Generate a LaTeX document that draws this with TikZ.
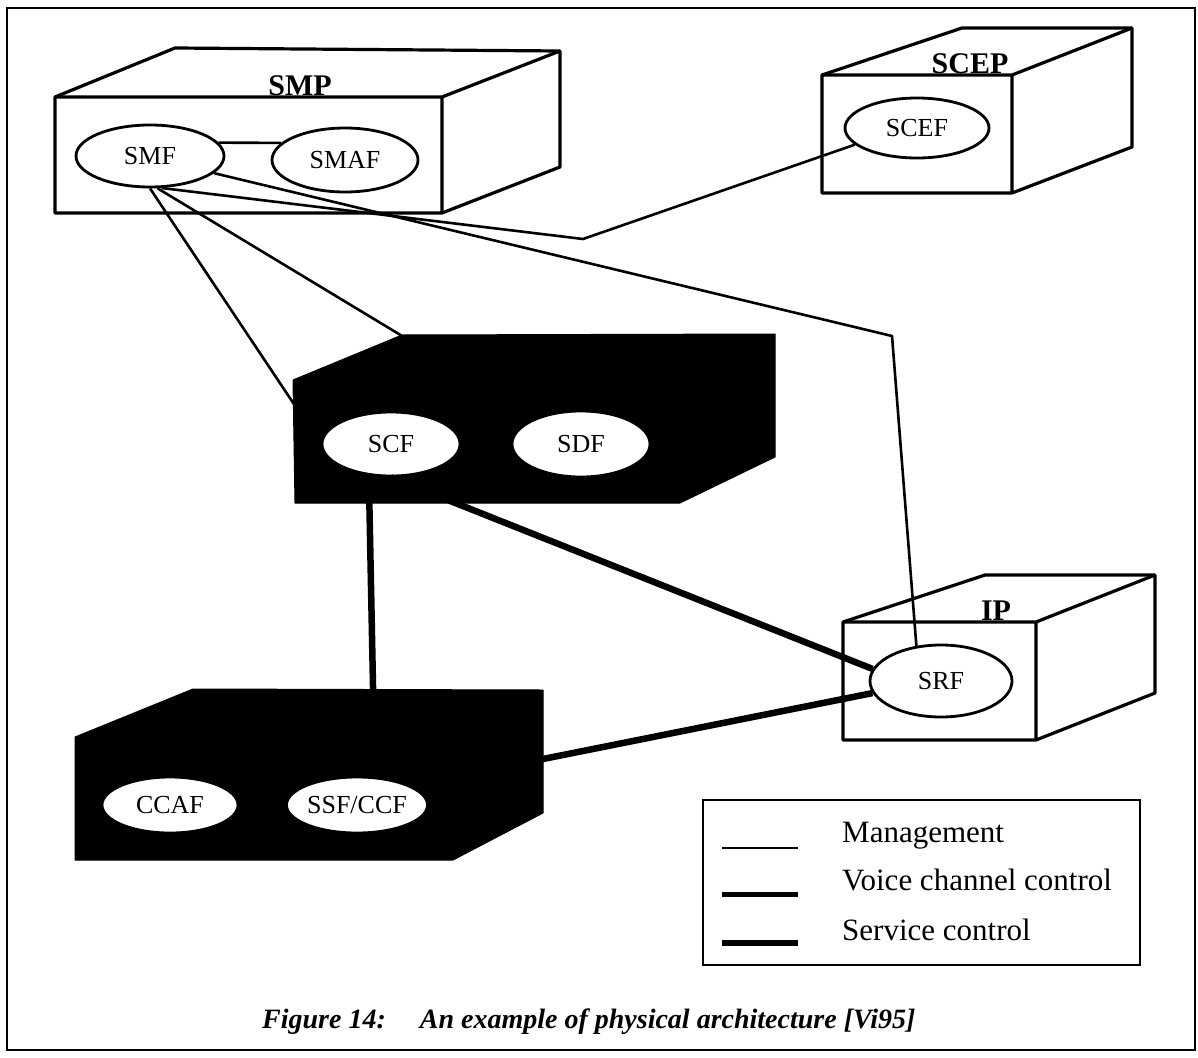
\documentclass[tikz,border=0pt]{standalone}
\usepackage{fontspec}
\setmainfont{Liberation Serif}
\usetikzlibrary{shapes.geometric}
\begin{document}
\begin{tikzpicture}[x=1pt,y=-1pt,
  func/.style={ellipse, draw, line width=2.8pt, fill=white, inner sep=0pt,
    font=\fontsize{26}{30}\selectfont},
  boxlabel/.style={anchor=base, inner sep=0pt,
    font=\fontsize{30}{34}\selectfont\bfseries},
  boxedge/.style={draw, line width=3.2pt, line join=round, fill=white},
  boxline/.style={line width=3.2pt, line join=round},
  darkbox/.style={fill=black, draw=black, line width=1pt, line join=round},
  mgmt/.style={line width=2.6pt, line join=round},
  ctrl/.style={line width=6.5pt},
  legtext/.style={anchor=base west, inner sep=0pt,
    font=\fontsize{31}{35}\selectfont}
]
\useasboundingbox (0,0) rectangle (1198,1057);
\draw[line width=2pt] (7,8) rectangle (1195,1050);

% SMP box
\draw[boxedge] (55,97) -- (175,48) -- (560,51) -- (560,167) -- (442,213) -- (55,213) -- cycle;
\draw[boxline] (55,97) -- (442,97) -- (560,51) (442,97) -- (442,213);
\node[boxlabel] (smp) at (300,95) {SMP};

% SCEP box
\draw[boxedge] (822,75) -- (962,28) -- (1132,28) -- (1132,147) -- (1012,193) -- (822,193) -- cycle;
\draw[boxline] (822,75) -- (1012,75) -- (1132,28) (1012,75) -- (1012,193);
\node[boxlabel] (scep) at (970,74) {SCEP};

% IP box
\draw[boxedge] (843,622) -- (985,575) -- (1155,575) -- (1155,693) -- (1036,740) -- (843,740) -- cycle;
\draw[boxline] (843,622) -- (1036,622) -- (1155,575) (1036,622) -- (1036,740);
\node[boxlabel] (ip) at (996,620) {IP};

% dark boxes
\draw[darkbox] (293,380) -- (402,335) -- (775,334) -- (775,457) -- (680,503) -- (295,503) -- cycle;
\draw[darkbox] (75,737) -- (193,689) -- (543,690) -- (543,813) -- (453,860) -- (75,860) -- cycle;

% functional entities
\node[func, minimum width=148pt, minimum height=62pt] (smf)  at (150,156) {SMF};
\node[func, minimum width=146pt, minimum height=64pt] (smaf) at (345,160) {SMAF};
\node[func, minimum width=144pt, minimum height=60pt] (scef) at (917,128) {SCEF};
\node[func, minimum width=138pt, minimum height=64pt] (scf)  at (391,444) {SCF};
\node[func, minimum width=138pt, minimum height=66pt] (sdf)  at (581,444) {SDF};
\node[func, minimum width=136pt, minimum height=56pt] (ccaf) at (170,805) {CCAF};
\node[func, minimum width=134pt, minimum height=56pt] (ssf)  at (357,805) {SSF/CCF};
\node[func, minimum width=142pt, minimum height=72pt] (srf)  at (941,681) {SRF};

% bend points of the management links
\coordinate (bendA) at (583,239);
\coordinate (bendB) at (892,336);

% management links
\draw[mgmt] (smf.11) -- (smaf.165);
\draw[mgmt] (smf.south) -- (scf.west);
\draw[mgmt] (smf.283) -- (sdf);
\draw[mgmt] (smf.290) -- (bendA) -- (scef.195);
\draw[mgmt] (smf.345) -- (bendB) -- (srf.125);

% control links
\draw[ctrl] (scf.235) -- (ssf.58);
\draw[ctrl] (scf.south) -- (srf.170);
\draw[ctrl] (ssf.20) -- (srf.190);

% legend
\draw[line width=2pt] (703,800) rectangle (1140,965);
\draw[line width=2.6pt] (722,848) -- (798,848);
\draw[line width=5pt] (722,894) -- (798,894);
\draw[line width=6pt] (722,943) -- (798,943);
\node[legtext] (lg1) at (842,842) {Management};
\node[legtext] (lg2) at (842,890) {Voice channel control};
\node[legtext] (lg3) at (842,940) {Service control};

% caption
\node[anchor=base west, inner sep=0pt, font=\fontsize{28}{32}\selectfont\bfseries\itshape]
  (cap) at (262,1028) {Figure 14:\hspace{34pt}An example of physical architecture [Vi95]};
\end{tikzpicture}
\end{document}
